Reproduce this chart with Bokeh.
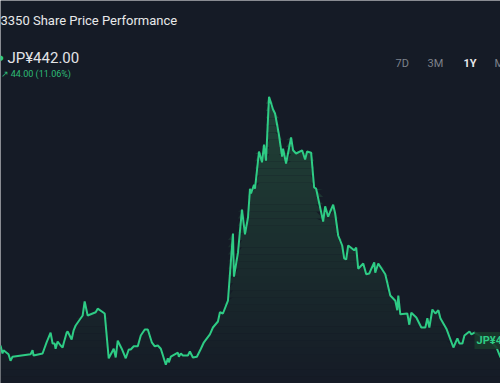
import numpy as np
from bokeh.plotting import figure
from bokeh.models import Range1d, Label, ColumnDataSource
from bokeh.embed import file_html
from bokeh.resources import INLINE

# ---- data ----
session = [0, 2, 3, 8, 10, 12, 30, 32, 33, 42, 46, 50, 52, 54, 55, 57, 60, 62, 63, 66,
           67, 71, 73, 75, 82, 84, 87, 95, 97, 104, 108, 113, 115, 117, 121, 125, 128, 130, 133, 137,
           140, 144, 147, 151, 154, 157, 160, 165, 167, 168, 170, 177, 178, 180, 182, 187, 189, 192, 196, 200,
           203, 209, 212, 217, 219, 222, 227, 232, 233, 237, 241, 244, 247, 249, 250, 253, 254, 258, 261, 263,
           265, 268, 272, 274, 278, 281, 282, 285, 290, 292, 295, 301, 304, 306, 310, 313, 315, 322, 324, 327,
           332, 334, 337, 341, 343, 345, 347, 353, 355, 357, 362, 365, 368, 373, 374, 377, 384, 389, 394, 396,
           397, 399, 406, 408, 410, 415, 420, 424, 426, 428, 431, 434, 437, 439, 445, 452, 456, 458, 461, 463,
           468, 470, 473, 480, 488, 495, 499]
price = [472, 452, 460, 450, 434, 444, 450, 460, 447, 452, 480, 504, 477, 477, 464, 482, 472, 467, 477, 504,
         507, 487, 510, 522, 547, 582, 547, 555, 564, 552, 440, 464, 442, 484, 464, 440, 462, 462, 470, 470,
         497, 512, 512, 480, 470, 472, 464, 424, 440, 430, 444, 454, 444, 452, 447, 447, 457, 442, 444, 464,
         480, 500, 517, 532, 555, 552, 584, 752, 644, 704, 812, 750, 792, 864, 852, 874, 864, 957, 930, 974,
         934, 1094, 1062, 1052, 997, 944, 964, 927, 992, 960, 952, 960, 937, 957, 954, 867, 864, 782, 820, 794,
         824, 802, 747, 722, 690, 687, 722, 710, 717, 664, 677, 650, 652, 680, 654, 677, 650, 597, 584, 560,
         597, 550, 552, 524, 554, 542, 517, 517, 540, 517, 562, 552, 560, 540, 514, 467, 490, 477, 477, 497,
         507, 500, 504, 494, 484, 467, 442]

title = "3350 Share Price Performance"
last_price = "JP¥442.00"
change_text = "↗ 44.00 (11.06%)"
periods = ["7D", "3M", "1Y", "Max"]
active_period = "1Y"

BG = "#151b26"
GREEN = "#2ecc85"

W, H = 500, 383
y_lo, y_hi = 377, 1334.5

p = figure(width=W, height=H, output_backend="svg", toolbar_location=None,
           x_range=Range1d(0, 499), y_range=Range1d(y_lo, y_hi),
           min_border=0,
           background_fill_color=BG, border_fill_color=BG, outline_line_color=None)
p.axis.visible = False
p.xgrid.visible = False
p.ygrid.visible = False

x = np.array(session, dtype=float)
y = np.array(price, dtype=float)

# gradient fill under the line (stacked bands)
top = max(price)
nb = 40
levels = np.linspace(y_lo, top, nb + 1)
c0 = np.array([0x15, 0x1b, 0x26], dtype=float)
c1 = np.array([0x21, 0x42, 0x37], dtype=float)
for i in range(nb):
    lo, hi = levels[i], levels[i + 1]
    t = (i + 0.5) / nb
    c = c0 + (c1 - c0) * t
    col = "#%02x%02x%02x" % tuple(int(round(v)) for v in c)
    src = ColumnDataSource(dict(x=x, y1=np.full_like(y, lo), y2=np.clip(y, lo, hi)))
    p.varea(x="x", y1="y1", y2="y2", source=src, fill_color=col, fill_alpha=1.0)

p.line(session, price, line_color=GREEN, line_width=2)

# last price tag
p.add_layout(Label(x=474, y=H - 340, x_units="screen", y_units="screen", text="JP¥442.00 ",
                   text_font="Roboto", text_font_size="11px", text_font_style="bold",
                   text_color=GREEN, text_baseline="middle",
                   background_fill_color="#1a3a2c", background_fill_alpha=0.9, padding=2))

# header texts
p.add_layout(Label(x=0, y=H - 20, x_units="screen", y_units="screen", text=title,
                   text_font="Roboto", text_font_size="13px", text_color="#e8e9ea",
                   text_baseline="middle"))
p.add_layout(Label(x=-3, y=H - 57, x_units="screen", y_units="screen", text="●",
                   text_font="DejaVu Sans", text_font_size="7px", text_color=GREEN,
                   text_baseline="middle"))
p.add_layout(Label(x=7, y=H - 57, x_units="screen", y_units="screen", text=last_price,
                   text_font="Roboto", text_font_size="15px", text_color="#e3e4e6",
                   text_baseline="middle"))
p.add_layout(Label(x=0, y=H - 73, x_units="screen", y_units="screen", text=change_text,
                   text_font="Roboto", text_font_size="9px", text_color="#2ebd78",
                   text_baseline="middle"))

for name, xs in zip(periods, [395, 427, 463, 494]):
    active = name == active_period
    p.add_layout(Label(x=xs, y=H - 63, x_units="screen", y_units="screen", text=name,
                       text_font="Roboto", text_font_size="11px",
                       text_font_style="bold" if active else "normal",
                       text_color="#e8e9ea" if active else "#7d828b",
                       text_baseline="middle"))

open("out.html", "w").write(file_html(p, INLINE))
